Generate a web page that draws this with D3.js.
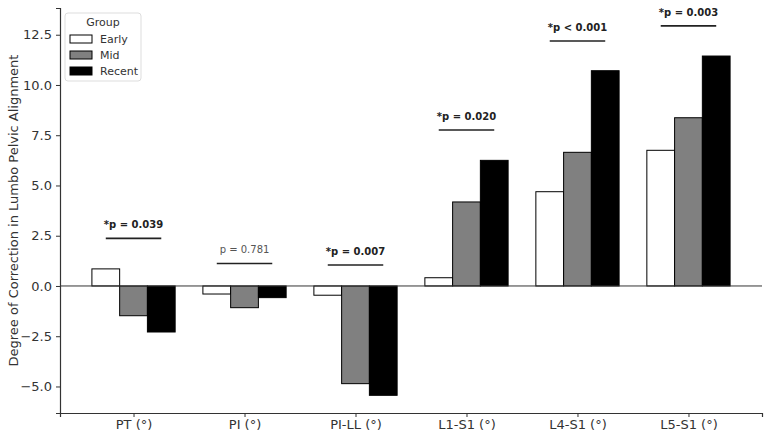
<!DOCTYPE html>
<html>
<head>
<meta charset="utf-8">
<script src="https://cdn.jsdelivr.net/npm/d3@7"></script>
<style>
  body { margin: 0; background: #fff; }
  text { font-family: "DejaVu Sans", sans-serif; }
</style>
</head>
<body>
<svg id="chart"></svg>
<script>
var categories = ["PT (°)", "PI (°)", "PI-LL (°)", "L1-S1 (°)", "L4-S1 (°)", "L5-S1 (°)"];
var groups = ["Early", "Mid", "Recent"];
var early = [0.85, -0.40, -0.46, 0.41, 4.69, 6.75];
var mid = [-1.48, -1.08, -4.86, 4.18, 6.65, 8.37];
var recent = [-2.29, -0.58, -5.44, 6.25, 10.71, 11.44];
var pLabels = ["*p = 0.039", "p = 0.781", "*p = 0.007", "*p = 0.020", "*p < 0.001", "*p = 0.003"];
var pSignif = [true, false, true, true, true, true];
var pLineY = [2.37, 1.12, 1.04, 7.76, 12.19, 12.94];
var yTicks = [-5.0, -2.5, 0.0, 2.5, 5.0, 7.5, 10.0, 12.5];

var fills = {"Early": "#ffffff", "Mid": "#808080", "Recent": "#000000"};
var seriesVals = {"Early": early, "Mid": mid, "Recent": recent};

var W = 766, H = 432;
var margin = {top: 8, right: 4, bottom: 19, left: 60},
    width = W - margin.left - margin.right,
    height = H - margin.top - margin.bottom;

var svg = d3.select("#chart").attr("width", W).attr("height", H);
var g = svg.append("g").attr("transform", "translate(" + margin.left + "," + margin.top + ")");

// numeric x like matplotlib: category index, bar width 0.25
var x = d3.scaleLinear().domain([-0.6625, 5.6625]).range([0, width]);
var y = d3.scaleLinear().domain([-6.32, 13.83]).range([height, 0]);
var barW = 0.25;

// bars
groups.forEach(function (grp, gi) {
  g.append("g").selectAll("rect")
    .data(seriesVals[grp])
    .enter()
    .append("rect")
      .attr("x", function (d, i) { return x(i + (gi - 1) * barW - barW / 2); })
      .attr("width", x(barW) - x(0))
      .attr("y", function (d) { return y(Math.max(0, d)); })
      .attr("height", function (d) { return Math.abs(y(d) - y(0)); })
      .attr("fill", fills[grp])
      .attr("stroke", "#000")
      .attr("stroke-width", 1);
});

// zero line
g.append("line")
  .attr("x1", 0).attr("x2", width)
  .attr("y1", y(0)).attr("y2", y(0))
  .attr("stroke", "#333").attr("stroke-width", 1);

// p-value annotations
categories.forEach(function (c, i) {
  g.append("line")
    .attr("x1", x(i - 0.25)).attr("x2", x(i + 0.25))
    .attr("y1", y(pLineY[i])).attr("y2", y(pLineY[i]))
    .attr("stroke", "#222").attr("stroke-width", 1.6);
  g.append("text")
    .attr("x", x(i))
    .attr("y", y(pLineY[i]) - 10)
    .attr("text-anchor", "middle")
    .style("font-size", "10px")
    .style("font-weight", pSignif[i] ? "bold" : "normal")
    .style("fill", pSignif[i] ? "#222" : "#555")
    .text(pLabels[i]);
});

// axes
var yAxis = g.append("g")
  .call(d3.axisLeft(y).tickValues(yTicks).tickSize(4).tickPadding(4));
var xAxis = g.append("g")
  .attr("transform", "translate(0," + height + ")")
  .call(d3.axisBottom(x).tickValues(d3.range(categories.length))
    .tickFormat(function (d) { return categories[d]; }).tickSize(4).tickPadding(3));

[yAxis, xAxis].forEach(function (a) {
  a.select(".domain").attr("stroke", "#333").attr("stroke-width", 1.2);
  a.selectAll(".tick line").attr("stroke", "#333");
  a.selectAll(".tick text").style("font-size", "13px").style("fill", "#333")
    .style("font-family", "'DejaVu Sans', sans-serif");
});
yAxis.selectAll(".tick text").text(function (d) { return d < 0 ? "\u2212" + Math.abs(d).toFixed(1) : d.toFixed(1); });

// y label
svg.append("text")
  .attr("transform", "translate(18," + (margin.top + height / 2) + ") rotate(-90)")
  .attr("text-anchor", "middle")
  .style("font-size", "13px")
  .style("fill", "#333")
  .text("Degree of Correction in Lumbo Pelvic Alignment");

// legend
var lg = g.append("g").attr("transform", "translate(5,5)");
lg.append("rect")
  .attr("width", 76).attr("height", 68).attr("rx", 3)
  .attr("fill", "#fff").attr("stroke", "#ddd");
lg.append("text")
  .attr("x", 38).attr("y", 13)
  .attr("text-anchor", "middle")
  .style("font-size", "11px").style("fill", "#333")
  .text("Group");
groups.forEach(function (grp, gi) {
  var ly = 22 + gi * 16;
  lg.append("rect")
    .attr("x", 5).attr("y", ly).attr("width", 22).attr("height", 8)
    .attr("fill", fills[grp]).attr("stroke", "#000");
  lg.append("text")
    .attr("x", 35).attr("y", ly + 8)
    .style("font-size", "11px").style("fill", "#333")
    .text(grp);
});
</script>
</body>
</html>
